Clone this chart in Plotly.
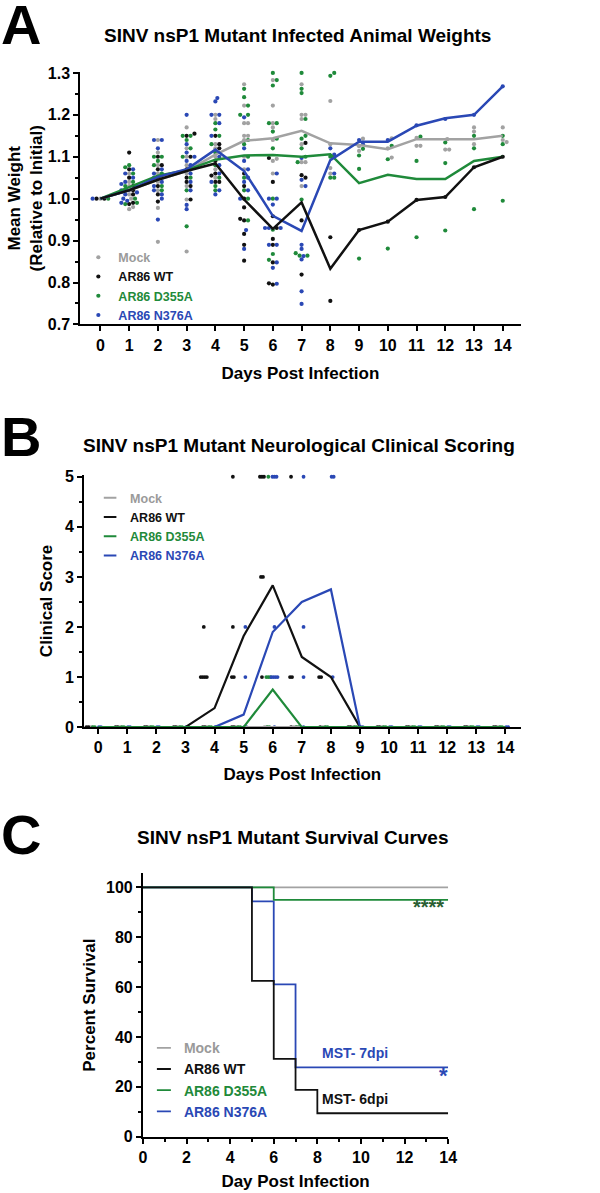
import numpy as np
import plotly.graph_objects as go

FONT = "Liberation Sans, Arial, Helvetica, sans-serif"
GREY = "#a2a2a2"
BLACK = "#111111"
GREEN = "#1f8a3a"
BLUE = "#2a48b5"
LEG_GREY = "#9a9a9a"

# ---------------- Panel A data: relative weights ----------------
days = list(range(15))
group_names = ["Mock", "AR86 WT", "AR86 D355A", "AR86 N376A"]

mock_mean = [1.0, 1.02, 1.045, 1.066, 1.105, 1.138, 1.144, 1.162, 1.132, 1.128, 1.118, 1.142, 1.142, 1.142, 1.15]
wt_mean = [1.0, 1.02, 1.045, 1.066, 1.084, 0.998, 0.928, 0.991, 0.833, 0.925, 0.945, 0.997, 1.004, 1.075, 1.10]
d355a_mean = [1.0, 1.027, 1.055, 1.068, 1.093, 1.103, 1.104, 1.100, 1.106, 1.037, 1.057, 1.047, 1.047, 1.090, 1.10]
n376a_mean = [1.0, 1.02, 1.052, 1.07, 1.117, 1.066, 0.959, 0.923, 1.092, 1.136, 1.136, 1.174, 1.192, 1.20, 1.268]

mock_w = {
    0: [1.0], 1: [1.06, 1.04, 1.03, 1.02, 1.01, 0.98, 0.975, 1.0],
    2: [1.14, 1.11, 1.08, 1.06, 1.04, 1.02, 0.978, 0.897],
    3: [1.17, 1.12, 1.1, 1.08, 1.06, 1.03, 0.998, 0.874],
    4: [1.2, 1.19, 1.13, 1.12, 1.1, 1.07, 1.05],
    5: [1.273, 1.222, 1.18, 1.18, 1.15, 1.15, 1.14, 1.1, 1.07],
    6: [1.283, 1.222, 1.18, 1.17, 1.14, 1.095, 1.09, 1.06],
    7: [1.273, 1.2, 1.2, 1.19, 1.13, 1.087, 1.087, 1.03],
    8: [1.233, 1.13, 1.073, 1.06], 9: [1.143, 1.125, 1.114],
    10: [1.144, 1.12, 1.098], 11: [1.145, 1.126, 1.126], 12: [1.142, 1.117, 1.117],
    13: [1.17, 1.16, 1.13], 14: [1.17, 1.14, 1.135],
}
wt_w = {
    0: [1.0, 1.0], 1: [1.11, 1.07, 1.05, 1.03, 1.02, 1.01, 0.99, 0.987],
    2: [1.1, 1.08, 1.07, 1.05, 1.03, 1.01, 0.993],
    3: [1.155, 1.15, 1.1, 1.07, 1.05, 1.04, 1.03, 0.998],
    4: [1.15, 1.13, 1.12, 1.09, 1.06, 1.055, 1.04, 1.04],
    5: [1.06, 1.03, 1.0, 0.979, 0.948, 0.952, 0.916, 0.89, 0.852],
    6: [1.097, 1.04, 0.958, 0.93, 0.904, 0.89, 0.848, 0.798, 0.795],
    7: [1.133, 1.056, 1.05, 0.948, 0.819], 8: [0.908, 0.756],
    9: [0.925], 10: [0.945], 11: [0.997], 12: [1.004], 13: [1.075], 14: [1.1],
}
d355a_w = {
    0: [1.0], 1: [1.08, 1.075, 1.06, 1.04, 1.03, 1.02, 1.0, 0.99, 0.987],
    2: [1.1, 1.1, 1.09, 1.08, 1.06, 1.05, 1.03, 1.02],
    3: [1.15, 1.15, 1.14, 1.12, 1.1, 1.07, 1.05, 1.02, 0.934],
    4: [1.18, 1.165, 1.15, 1.13, 1.11, 1.08, 1.05, 1.03, 1.02],
    5: [1.262, 1.242, 1.222, 1.2, 1.2, 1.14, 1.13, 1.1, 1.05, 1.02, 1.0, 0.948],
    6: [1.3, 1.283, 1.27, 1.18, 1.18, 1.16, 1.143, 1.12, 1.0, 0.926, 0.868, 0.854],
    7: [1.3, 1.262, 1.252, 1.19, 1.15, 1.143, 1.12, 1.1, 1.087, 0.998, 0.864, 0.864, 0.87],
    8: [1.3, 1.293, 1.1, 1.05, 1.05], 9: [1.119, 1.103, 1.071, 0.857],
    10: [1.126, 1.094, 0.881], 11: [1.148, 1.09, 0.908], 12: [1.134, 1.085, 0.924],
    13: [1.15, 1.12, 0.975], 14: [1.15, 1.13, 0.995],
}
n376a_w = {
    0: [1.0], 1: [1.07, 1.06, 1.05, 1.04, 1.035, 1.03, 1.02, 1.015, 1.01, 1.0, 0.995, 0.99],
    2: [1.14, 1.14, 1.12, 1.07, 1.06, 1.05, 1.04, 1.03, 1.02, 1.01, 1.0, 0.95],
    3: [1.2, 1.13, 1.11, 1.1, 1.09, 1.08, 1.06, 1.04, 1.02, 0.985, 0.975],
    4: [1.24, 1.232, 1.2, 1.2, 1.18, 1.15, 1.1, 1.08, 1.06, 1.04, 1.02, 1.01],
    5: [1.194, 1.12, 1.09, 1.07, 1.05, 1.04, 1.02, 1.0, 0.925, 0.88],
    6: [1.06, 1.0, 1.0, 0.986, 0.93, 0.93, 0.93, 0.89, 0.89, 0.848, 0.835, 0.797],
    7: [1.097, 1.045, 1.03, 0.89, 0.88, 0.863, 0.855, 0.779, 0.749],
    8: [1.12, 1.105, 1.06], 9: [1.14, 1.13], 10: [1.14], 11: [1.175],
    12: [1.19], 13: [1.2], 14: [1.268],
}

# ---------------- Panel B data: clinical scores ----------------
mock_clin = [0, 0, 0, 0, 0, 0, 0, 0, 0, 0, 0, 0, 0, 0, 0]
wt_clin = [0, 0, 0, 0, 0.38, 1.82, 2.83, 1.4, 1.0, 0, 0, 0, 0, 0, 0]
d355a_clin = [0, 0, 0, 0, 0, 0, 0.75, 0, 0, 0, 0, 0, 0, 0, 0]
n376a_clin = [0, 0, 0, 0, 0, 0.25, 1.9, 2.5, 2.75, 0, 0, 0, 0, 0, 0]

mock_scores = {d: [0, 0] for d in days}
wt_scores = {0: [0, 0], 1: [0, 0], 2: [0, 0], 3: [0, 0], 4: [2, 1, 1, 1, 1, 0, 0],
             5: [5, 2, 1, 1, 0, 0], 6: [5, 5, 5, 3, 3, 1], 7: [5, 1, 1, 0], 8: [1, 1, 0],
             9: [0, 0], 10: [0, 0], 11: [0, 0], 12: [0, 0], 13: [0, 0], 14: [0, 0]}
d355a_scores = {0: [0, 0], 1: [0, 0], 2: [0, 0], 3: [0, 0], 4: [0, 0], 5: [0, 0],
                6: [5, 1, 1, 1, 0, 0], 7: [0, 0], 8: [0, 0], 9: [0, 0], 10: [0, 0],
                11: [0, 0], 12: [0, 0], 13: [0, 0], 14: [0, 0]}
n376a_scores = {0: [0, 0], 1: [0, 0], 2: [0, 0], 3: [0, 0], 4: [0, 0], 5: [2, 1, 0, 0],
                6: [5, 5, 5, 2, 1, 1, 1, 1, 0], 7: [5, 2, 1, 0], 8: [5, 5, 1],
                9: [0, 0], 10: [0, 0], 11: [0, 0], 12: [0, 0], 13: [0, 0], 14: [0, 0]}

# ---------------- Panel C data: survival ----------------
surv_mock_x, surv_mock = [0, 14], [100, 100]
surv_wt_x, surv_wt = [0, 5, 6, 7, 8, 14], [100, 62.5, 31.25, 18.75, 9.4, 9.4]
surv_d355a_x, surv_d355a = [0, 6, 14], [100, 95, 95]
surv_n376a_x, surv_n376a = [0, 5, 6, 7, 14], [100, 94.4, 61.1, 27.8, 27.8]

colors = [GREY, BLACK, GREEN, BLUE]
leg_colors = [LEG_GREY, BLACK, GREEN, BLUE]

fig = go.Figure()

# ---------- Panel A: beeswarm of points ----------
PX_DAY_A = 29.4
PX_UNIT_A = 427.0
DOT = 4.0


def swarm(vals):
    order = sorted(range(len(vals)), key=lambda i: vals[i])
    cands = [0.0]
    for k in range(1, 40):
        cands += [k * DOT * 0.5, -k * DOT * 0.5]
    placed, offs = [], [0.0] * len(vals)
    for i in order:
        y = vals[i] * PX_UNIT_A
        for c in cands:
            if all((c - px) ** 2 + (y - py) ** 2 >= DOT * DOT * 0.95 for px, py in placed):
                offs[i] = c
                placed.append((c, y))
                break
    return offs


groups_w = [mock_w, wt_w, d355a_w, n376a_w]
gx = [[] for _ in groups_w]
gy = [[] for _ in groups_w]
for d in days:
    vals, owner = [], []
    for gi, g in enumerate(groups_w):
        for v in g.get(d, []):
            vals.append(v)
            owner.append(gi)
    offs = swarm(vals)
    for v, o, gi in zip(vals, offs, owner):
        gx[gi].append(d + o / PX_DAY_A)
        gy[gi].append(v)

for gi in range(4):
    fig.add_trace(go.Scatter(
        x=gx[gi], y=gy[gi], mode="markers", xaxis="x", yaxis="y",
        marker=dict(size=4.2, color=colors[gi], line=dict(width=0)),
        cliponaxis=False, legend="legend",
        name=f'<span style="color:{leg_colors[gi]}">{group_names[gi]}</span>',
        showlegend=True))

for gi, m in enumerate([mock_mean, d355a_mean, n376a_mean, wt_mean]):
    c = [GREY, GREEN, BLUE, BLACK][gi]
    fig.add_trace(go.Scatter(x=days, y=m, mode="lines", xaxis="x", yaxis="y",
                             line=dict(color=c, width=2.5), showlegend=False))

# ---------- Panel B ----------
offsets_B = [-0.25, -0.37, -0.15, 0.06]
for gi, sc in enumerate([mock_scores, wt_scores, d355a_scores, n376a_scores]):
    xs, ys = [], []
    for d in days:
        lst = sc.get(d, [])
        for s in sorted(set(lst)):
            n = lst.count(s)
            for k in range(n):
                xs.append(d + offsets_B[gi] + (k - (n - 1) / 2) * 0.07)
                ys.append(s)
    fig.add_trace(go.Scatter(x=xs, y=ys, mode="markers", xaxis="x2", yaxis="y2",
                             marker=dict(size=3.8, color=colors[gi], line=dict(width=0)),
                             cliponaxis=False, showlegend=False))

for c, m in [(GREY, mock_clin), (BLACK, wt_clin), (BLUE, n376a_clin), (GREEN, d355a_clin)]:
    fig.add_trace(go.Scatter(x=days, y=m, mode="lines", xaxis="x2", yaxis="y2",
                             line=dict(color=c, width=2.2), showlegend=False))

for gi in range(4):
    fig.add_trace(go.Scatter(x=[None], y=[None], mode="markers", xaxis="x2", yaxis="y2",
                             marker=dict(symbol="line-ew", size=9, color=colors[gi],
                                         line=dict(width=2.2, color=colors[gi])),
                             legend="legend2",
                             name=f'<span style="color:{leg_colors[gi]}">{group_names[gi]}</span>'))

# ---------- Panel C ----------
for c, xs, ys in [(GREY, surv_mock_x, surv_mock), (BLUE, surv_n376a_x, surv_n376a),
                  (GREEN, surv_d355a_x, surv_d355a), (BLACK, surv_wt_x, surv_wt)]:
    fig.add_trace(go.Scatter(x=xs, y=ys, mode="lines", xaxis="x3", yaxis="y3",
                             line=dict(color=c, width=1.8, shape="hv"), showlegend=False))

for gi in range(4):
    fig.add_trace(go.Scatter(x=[None], y=[None], mode="markers", xaxis="x3", yaxis="y3",
                             marker=dict(symbol="line-ew", size=10, color=colors[gi],
                                         line=dict(width=1.8, color=colors[gi])),
                             legend="legend3",
                             name=f'<span style="color:{leg_colors[gi]}">{group_names[gi]}</span>'))

H = 1193.0
W = 600.0
tickfont = dict(family=FONT, size=16, color="black", weight="bold")
titlefont = dict(family=FONT, size=17, color="black", weight="bold")

common = dict(showline=True, linecolor="black", linewidth=2, ticks="outside",
              ticklen=5, tickwidth=2, tickcolor="black", showgrid=False, zeroline=False,
              tickfont=tickfont)

fig.update_layout(
    width=600, height=1193, autosize=False,
    margin=dict(l=0, r=0, t=0, b=0),
    paper_bgcolor="white", plot_bgcolor="white",
    font=dict(family=FONT, color="black"),
    xaxis=dict(domain=[78 / W, 528 / W], range=[-0.7, 14.62], tickvals=days,
               title=dict(text="Days Post Infection", font=titlefont, standoff=14),
               anchor="y", **common),
    yaxis=dict(domain=[1 - 321 / H, 1 - 65 / H], range=[0.7, 1.302], tick0=0.7, dtick=0.1,
               tickformat=".1f",
               minor=dict(ticks="outside", ticklen=3, tickwidth=1.5, tickcolor="black", dtick=0.05),
               title=dict(text="Mean Weight<br>(Relative to Initial)", font=titlefont, standoff=1),
               anchor="x", **common),
    xaxis2=dict(domain=[82 / W, 528 / W], range=[-0.48, 14.52], tickvals=days,
                title=dict(text="Days Post Infection", font=titlefont, standoff=13),
                anchor="y2", **common),
    yaxis2=dict(domain=[1 - 729.5 / H, 1 - 473.5 / H], range=[0, 5.04], tick0=0, dtick=1,
                minor=dict(ticks="outside", ticklen=3, tickwidth=1.5, tickcolor="black", dtick=0.5),
                title=dict(text="Clinical Score", font=titlefont, standoff=8),
                anchor="x2", **common),
    xaxis3=dict(domain=[142 / W, 454 / W], range=[0, 14], tick0=0, dtick=2,
                minor=dict(ticks="outside", ticklen=3, tickwidth=1.5, tickcolor="black", dtick=1),
                title=dict(text="Day Post Infection", font=titlefont, standoff=10),
                anchor="y3", **common),
    yaxis3=dict(domain=[1 - 1145 / H, 1 - 878 / H], range=[0, 105.6], tick0=0, dtick=20,
                minor=dict(ticks="outside", ticklen=3, tickwidth=1.5, tickcolor="black", dtick=10),
                title=dict(text="Percent Survival", font=titlefont, standoff=6),
                anchor="x3", **common),
    legend=dict(x=76 / W, y=1 - 238 / H, xanchor="left", yanchor="top",
                bgcolor="rgba(0,0,0,0)", font=dict(family=FONT, size=12.5, weight="bold"),
                tracegroupgap=0),
    legend2=dict(x=88 / W, y=1 - 482 / H, xanchor="left", yanchor="top",
                 bgcolor="rgba(0,0,0,0)", font=dict(family=FONT, size=12.5, weight="bold"),
                 tracegroupgap=0),
    legend3=dict(x=143 / W, y=1 - 1039 / H, xanchor="left", yanchor="top",
                 bgcolor="rgba(0,0,0,0)", font=dict(family=FONT, size=14, weight="bold"),
                 tracegroupgap=0),
)

letter_font = dict(family=FONT, size=56, color="black", weight="bold")
ttl_font = dict(family=FONT, size=19, color="black", weight="bold")
ann = [
    dict(text="A", x=-5 / W, y=1 - 17 / H, xanchor="left", yanchor="middle", font=letter_font),
    dict(text="B", x=-5 / W, y=1 - 435 / H, xanchor="left", yanchor="middle", font=letter_font),
    dict(text="C", x=-5 / W, y=1 - 838 / H, xanchor="left", yanchor="middle", font=letter_font),
    dict(text="SINV nsP1 Mutant Infected Animal Weights", x=0.5, y=1 - 28 / H,
         xanchor="center", yanchor="middle", font=ttl_font),
    dict(text="SINV nsP1 Mutant Neurological Clinical Scoring", x=0.502, y=1 - 444 / H,
         xanchor="center", yanchor="middle", font=ttl_font),
    dict(text="SINV nsP1 Mutant Survival Curves", x=0.492, y=1 - 841 / H,
         xanchor="center", yanchor="middle", font=ttl_font),
]
for a in ann:
    a.update(xref="paper", yref="paper", showarrow=False)

ann += [
    dict(text="****", x=13.9, y=92.2, xref="x3", yref="y3", xanchor="right", yanchor="middle",
         showarrow=False, font=dict(family=FONT, size=20, color="#2a5e32", weight="bold")),
    dict(text="*", x=13.77, y=24.7, xref="x3", yref="y3", xanchor="center", yanchor="middle",
         showarrow=False, font=dict(family=FONT, size=22, color=BLUE, weight="bold")),
    dict(text="MST- 7dpi", x=9.73, y=33.5, xref="x3", yref="y3", xanchor="center", yanchor="middle",
         showarrow=False, font=dict(family=FONT, size=14, color=BLUE, weight="bold")),
    dict(text="MST- 6dpi", x=9.73, y=15.0, xref="x3", yref="y3", xanchor="center", yanchor="middle",
         showarrow=False, font=dict(family=FONT, size=14, color=BLACK, weight="bold")),
]
fig.update_layout(annotations=ann)

fig.write_html("out.html", config={"displayModeBar": False},
               post_script="document.body.style.margin='0px';document.body.style.padding='0px';"
                           "document.body.style.overflow='hidden';")
